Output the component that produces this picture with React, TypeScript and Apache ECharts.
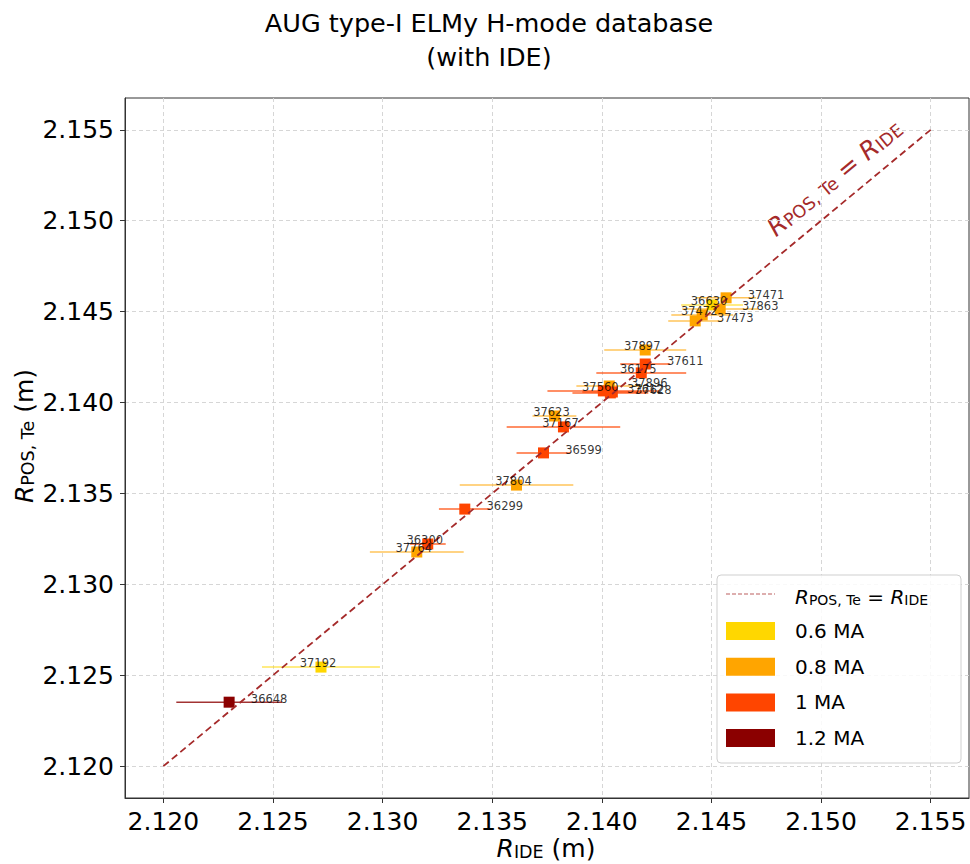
import React, { useEffect, useRef } from "react";
import * as echarts from "echarts";

// Shot numbers with their radial positions (m) and plasma current (MA)
const SHOTS = [
  "36648", "37192", "37764", "36300", "36299", "37804", "36599", "37167",
  "37623", "37560", "37896", "37612", "37628", "36175", "37611", "37897",
  "37473", "37472", "36630", "37863", "37471",
];
const R_IDE = [
  2.123, 2.12719, 2.13156, 2.13206, 2.13375, 2.13611, 2.13734, 2.13825,
  2.13784, 2.14007, 2.14034, 2.14039, 2.14048, 2.1418, 2.14198, 2.14198,
  2.14426, 2.14458, 2.14503, 2.1454, 2.14567,
];
const R_POS_TE = [
  2.12352, 2.12545, 2.13178, 2.13222, 2.13414, 2.13546, 2.13723, 2.13866,
  2.13926, 2.14064, 2.14091, 2.14053, 2.14058, 2.14163, 2.14212, 2.14289,
  2.14449, 2.14482, 2.14537, 2.14515, 2.14576,
];
const R_IDE_ERR = [
  0.00241, 0.00269, 0.00214, 0.00082, 0.00118, 0.00259, 0.00123, 0.00259,
  0.001, 0.00255, 0.0015, 0.00173, 0.00137, 0.00205, 0.00114, 0.00187,
  0.00123, 0.00141, 0.00141, 0.00173, 0.00137,
];
const IP_MA = [
  1.2, 0.6, 0.8, 1, 1, 0.8, 1, 1, 0.8, 1, 0.8, 1, 1, 1, 1, 0.8, 0.8, 0.8,
  0.6, 0.8, 0.8,
];
const CURRENT_LEVELS = [0.6, 0.8, 1, 1.2];
const CURRENT_LABELS = ["0.6 MA", "0.8 MA", "1 MA", "1.2 MA"];
const TICKS = [2.12, 2.125, 2.13, 2.135, 2.14, 2.145, 2.15, 2.155];
const IDENTITY_LINE = [
  [2.12, 2.12],
  [2.155, 2.155],
];

// Styling
const FONT = '"DejaVu Sans", "Liberation Sans", sans-serif';
const LEVEL_COLORS = ["#FFD700", "#FFA500", "#FF4500", "#8B0000"];
const LEVEL_BAR_COLORS = [
  "rgba(255,215,0,0.65)",
  "rgba(255,165,0,0.65)",
  "rgba(255,69,0,0.8)",
  "rgba(139,0,0,0.8)",
];
const LINE_COLOR = "#A52A2A";
const AXIS_MIN = 2.11825;
const AXIS_MAX = 2.15675;
const CENTER: [number, number] = [-3, -4];
const RIGHT: [number, number] = [40, -3];
const LABEL_OFFSETS: Record<string, [number, number]> = {
  "36648": RIGHT,
  "36299": RIGHT,
  "36599": RIGHT,
  "37896": RIGHT,
  "37612": [35, -4],
  "37628": [41, -2],
  "37611": RIGHT,
  "37471": RIGHT,
  "37863": RIGHT,
  "37473": RIGHT,
};

const mathRich = (size: number, color: string) => ({
  r: {
    fontSize: size,
    fontStyle: "italic",
    fontFamily: FONT,
    color,
    fill: color,
    lineHeight: size * 1.2,
    verticalAlign: "bottom",
  },
  n: {
    fontSize: size,
    fontFamily: FONT,
    color,
    fill: color,
    lineHeight: size * 1.2,
    verticalAlign: "bottom",
  },
  s: {
    fontSize: size * 0.7,
    fontFamily: FONT,
    color,
    fill: color,
    lineHeight: size * 0.72,
    verticalAlign: "bottom",
  },
});

export default function App() {
  const ref = useRef<HTMLDivElement>(null);

  useEffect(() => {
    if (!ref.current) return;
    const chart = echarts.init(ref.current, undefined, { renderer: "svg" });

    const series: any[] = [];
    CURRENT_LEVELS.forEach((level, li) => {
      const idx = IP_MA.map((v, i) => (v === level ? i : -1)).filter((i) => i >= 0);
      series.push({
        type: "custom",
        silent: true,
        z: 2,
        encode: { x: 0, y: 1 },
        data: idx.map((i) => [R_IDE[i], R_POS_TE[i], R_IDE_ERR[i]]),
        renderItem: (_p: any, api: any) => {
          const x = api.value(0);
          const y = api.value(1);
          const e = api.value(2);
          const a = api.coord([x - e, y]);
          const b = api.coord([x + e, y]);
          return {
            type: "line",
            shape: { x1: a[0], y1: a[1], x2: b[0], y2: b[1] },
            style: { stroke: LEVEL_BAR_COLORS[li], lineWidth: 1.5 },
          };
        },
      });
      series.push({
        type: "scatter",
        silent: true,
        z: 2,
        symbol: "rect",
        symbolSize: 11,
        itemStyle: { color: LEVEL_COLORS[li], opacity: 1 },
        data: idx.map((i) => [R_IDE[i], R_POS_TE[i]]),
      });
    });

    series.push({
      type: "line",
      silent: true,
      z: 5,
      symbol: "none",
      data: IDENTITY_LINE,
      lineStyle: { color: LINE_COLOR, width: 1.8, type: [7, 4] },
    });

    series.push({
      type: "scatter",
      silent: true,
      z: 10,
      symbolSize: 1,
      itemStyle: { color: "transparent" },
      data: SHOTS.map((s, i) => ({
        name: s,
        value: [R_IDE[i], R_POS_TE[i]],
        label: { offset: LABEL_OFFSETS[s] || CENTER },
      })),
      label: {
        show: true,
        position: "inside",
        formatter: "{b}",
        fontSize: 11.5,
        fontFamily: FONT,
        color: "#000",
      },
    });

    const axisCommon = {
      type: "value",
      min: AXIS_MIN,
      max: AXIS_MAX,
      axisLine: { show: true, onZero: false, lineStyle: { color: "#333", width: 1 } },
      axisTick: {
        show: true,
        length: 5,
        customValues: TICKS,
        lineStyle: { color: "#333", width: 1 },
      },
      axisLabel: {
        customValues: TICKS,
        formatter: (v: number) => v.toFixed(3),
        fontSize: 25,
        fontFamily: FONT,
        color: "#000",
        margin: 11,
      },
      splitLine: {
        show: true,
        lineStyle: { color: "#d6d6d6", width: 1, type: [4, 3] },
      },
    };

    // Legend: frame, dashed identity-line handle and current patches
    const LEGEND_Z = 20;
    const legendItems: any[] = [
      {
        type: "rect",
        z: LEGEND_Z,
        shape: { x: 717, y: 575, width: 244, height: 188, r: 4 },
        style: { fill: "rgba(255,255,255,0.85)", stroke: "#cfcfcf", lineWidth: 1 },
      },
      {
        type: "line",
        z: LEGEND_Z + 1,
        shape: { x1: 726, y1: 594, x2: 775, y2: 594 },
        style: { stroke: "rgba(165,42,42,0.75)", lineWidth: 1.2, lineDash: [4, 2] },
      },
      {
        type: "text",
        z: LEGEND_Z + 1,
        x: 795,
        y: 595,
        style: {
          text: "{r|R}{s|POS, Te}{n| = }{r|R}{s|IDE}",
          rich: mathRich(20, "#000"),
          align: "left",
          verticalAlign: "middle",
        },
      },
    ];
    CURRENT_LABELS.forEach((lab, i) => {
      const cy = 631 + i * 35.7;
      legendItems.push(
        {
          type: "rect",
          z: LEGEND_Z + 1,
          shape: { x: 726, y: cy - 9, width: 49, height: 18 },
          style: { fill: LEVEL_COLORS[i] },
        },
        {
          type: "text",
          z: LEGEND_Z + 1,
          x: 795,
          y: cy,
          style: {
            text: lab,
            font: `20px ${FONT}`,
            fill: "#000",
            align: "left",
            verticalAlign: "middle",
          },
        }
      );
    });

    chart.setOption({
      animation: false,
      grid: {
        left: 125,
        top: 98,
        width: 844,
        height: 700,
        show: true,
        borderColor: "#333",
        borderWidth: 1,
      },
      xAxis: axisCommon,
      yAxis: axisCommon,
      series,
      graphic: [
        {
          type: "text",
          x: 489,
          y: 23,
          style: {
            text: "AUG type-I ELMy H-mode database",
            font: `25.5px ${FONT}`,
            fill: "#000",
            align: "center",
            verticalAlign: "middle",
          },
        },
        {
          type: "text",
          x: 489,
          y: 57,
          style: {
            text: "(with IDE)",
            font: `25.5px ${FONT}`,
            fill: "#000",
            align: "center",
            verticalAlign: "middle",
          },
        },
        {
          type: "text",
          x: 546,
          y: 846,
          style: {
            text: "{r|R}{s|IDE}{n| (m)}",
            rich: mathRich(25, "#000"),
            align: "center",
            verticalAlign: "middle",
          },
        },
        {
          type: "text",
          x: 22,
          y: 436,
          rotation: Math.PI / 2,
          style: {
            text: "{r|R}{s|POS, Te}{n| (m)}",
            rich: mathRich(25, "#000"),
            align: "center",
            verticalAlign: "middle",
          },
        },
        {
          type: "text",
          x: 833,
          y: 176,
          rotation: Math.atan2(636, 769),
          style: {
            text: "{r|R}{s|POS, Te}{n| = }{r|R}{s|IDE}",
            rich: mathRich(25, LINE_COLOR),
            align: "center",
            verticalAlign: "middle",
          },
        },
        ...legendItems,
      ],
    });

    return () => chart.dispose();
  }, []);

  return (
    <div
      ref={ref}
      style={{ position: "absolute", left: 0, top: 0, width: 970, height: 864 }}
    />
  );
}
